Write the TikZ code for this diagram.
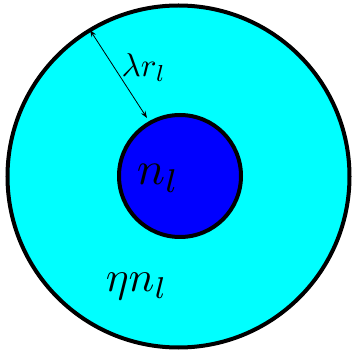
\documentclass[tikz,border=0pt]{standalone}
\usetikzlibrary{arrows.meta}
\definecolor{ringcyan}{RGB}{0,255,255}
\definecolor{coreblue}{RGB}{0,0,255}
\begin{document}
\begin{tikzpicture}[x=1pt,y=1pt,
  ring/.style={draw=black,line width=4pt},
  lbl/.style={inner sep=0pt,anchor=base west},
  dim/.style={line width=0.8pt,{Stealth[length=7pt,width=5pt]}-{Stealth[length=7pt,width=5pt]}}]
\useasboundingbox (0,0) rectangle (354,359);
\path[ring,fill=ringcyan] (178.5,182.5) circle (171);
\path[ring,fill=coreblue] (180,183) circle (61);
\coordinate (a) at (90,329);
\coordinate (b) at (147,241);
\draw[dim] (a) -- (b);
\node[lbl,scale=3.3] (lam) at (121,282) {$\lambda r_l$};
\node[lbl,scale=4.7] (n) at (136,174) {$n_l$};
\node[lbl,scale=4.3] (eta) at (105,67) {$\eta n_l$};
\end{tikzpicture}
\end{document}
